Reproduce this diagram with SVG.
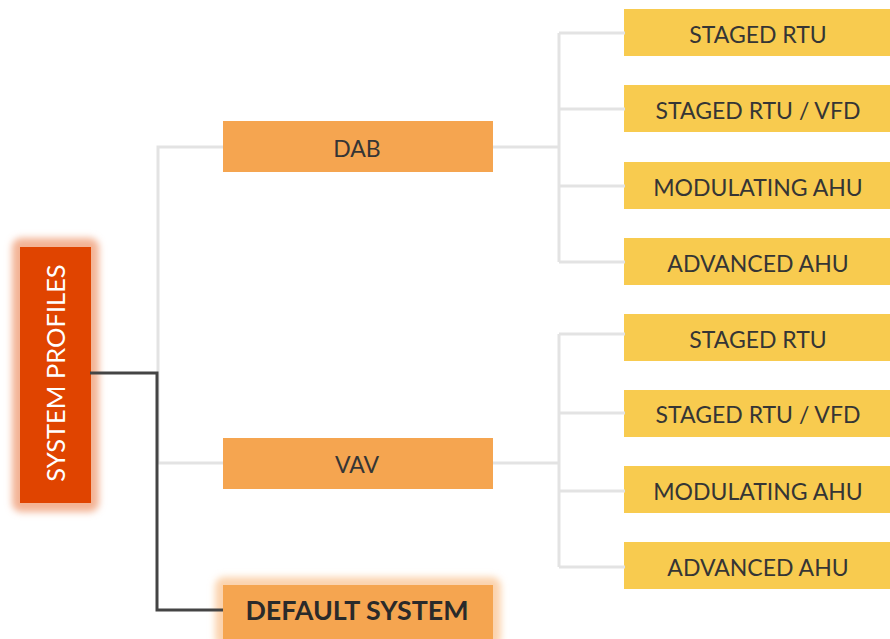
<svg xmlns="http://www.w3.org/2000/svg" width="890" height="639" viewBox="0 0 890 639">
  <defs>
    <style>
      .lbl { font-family: "Lato", "Open Sans", "Liberation Sans", sans-serif; font-size: 23px; font-weight: 400; fill: #353535; text-anchor: middle; dominant-baseline: central; }
      .mid { fill: #f5a550; }
      .leaf { fill: #f8cb4f; }
      .tree { stroke: #e3e3e3; stroke-width: 3; fill: none; }
      .main { stroke: #444444; stroke-width: 3; fill: none; }
    </style>
    <filter id="soft" x="-30%" y="-30%" width="160%" height="160%">
      <feGaussianBlur stdDeviation="3.5"/>
    </filter>
  </defs>
  <rect width="890" height="639" fill="#ffffff"/>

  <!-- root -->
  <g id="system-profiles">
    <rect x="12" y="238" width="87" height="274" rx="9" fill="#f3b394" filter="url(#soft)"/>
    <rect x="20" y="247" width="71" height="256" fill="#e04400"/>
    <text class="lbl" x="0" y="0" transform="translate(55 373) rotate(-90)" style="fill:#ffffff;font-size:25.5px">SYSTEM PROFILES</text>
  </g>

  <g id="dab">
    <rect class="mid" x="223" y="121" width="270" height="51"/>
    <text class="lbl" x="357" y="148">DAB</text>
  </g>
  <g id="vav">
    <rect class="mid" x="223" y="438" width="270" height="51"/>
    <text class="lbl" x="357" y="464">VAV</text>
  </g>
  <g id="default-system">
    <rect x="215" y="577" width="286" height="70" rx="9" fill="#fbd3ad" filter="url(#soft)"/>
    <rect class="mid" x="223" y="585" width="270" height="54"/>
    <text class="lbl" x="357" y="610" style="font-weight:bold;fill:#2a2a2a;font-size:26.8px">DEFAULT SYSTEM</text>
  </g>

  <!-- DAB systems -->
  <g id="dab-staged-rtu">
    <rect class="leaf" x="624" y="9" width="266" height="47"/>
    <text class="lbl" x="758" y="34">STAGED RTU</text>
  </g>
  <g id="dab-staged-rtu-vfd">
    <rect class="leaf" x="624" y="85" width="266" height="47"/>
    <text class="lbl" x="758" y="110">STAGED RTU / VFD</text>
  </g>
  <g id="dab-modulating-ahu">
    <rect class="leaf" x="624" y="162" width="266" height="47"/>
    <text class="lbl" x="758" y="187">MODULATING AHU</text>
  </g>
  <g id="dab-advanced-ahu">
    <rect class="leaf" x="624" y="238" width="266" height="47"/>
    <text class="lbl" x="758" y="263">ADVANCED AHU</text>
  </g>

  <!-- VAV systems -->
  <g id="vav-staged-rtu">
    <rect class="leaf" x="624" y="314" width="266" height="47"/>
    <text class="lbl" x="758" y="339">STAGED RTU</text>
  </g>
  <g id="vav-staged-rtu-vfd">
    <rect class="leaf" x="624" y="390" width="266" height="47"/>
    <text class="lbl" x="758" y="414">STAGED RTU / VFD</text>
  </g>
  <g id="vav-modulating-ahu">
    <rect class="leaf" x="624" y="466" width="266" height="47"/>
    <text class="lbl" x="758" y="491">MODULATING AHU</text>
  </g>
  <g id="vav-advanced-ahu">
    <rect class="leaf" x="624" y="542" width="266" height="47"/>
    <text class="lbl" x="758" y="567">ADVANCED AHU</text>
  </g>

  <!-- connectors, drawn over the glows so they meet the box edges -->
  <g id="connectors">
    <path class="tree" d="M158 463 V147 H223"/>
    <path class="tree" d="M158 463 H223"/>
    <path class="tree" d="M493 147 H559 M559 33 V262 M559 33 H625 M559 109 H625 M559 186 H625 M559 262 H625"/>
    <path class="tree" d="M493 463 H559 M559 334 V567 M559 334 H625 M559 413 H625 M559 491 H625 M559 567 H625"/>
    <path class="main" d="M90 373 H157 V610 H223"/>
  </g>
</svg>
